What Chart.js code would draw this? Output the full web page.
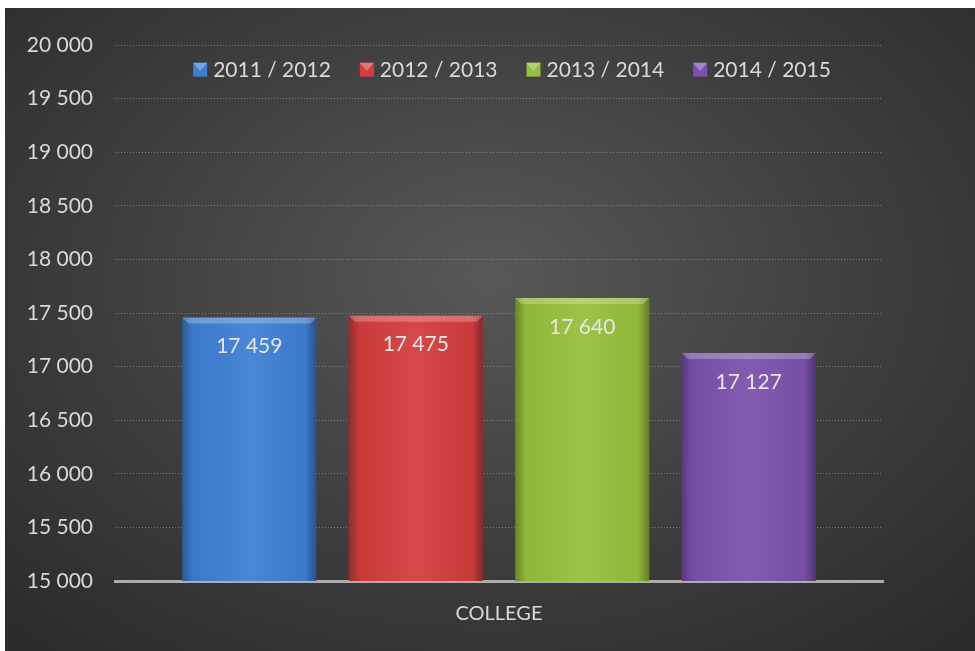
<!DOCTYPE html>
<html>
<head>
<meta charset="utf-8">
<script src="https://cdn.jsdelivr.net/npm/chart.js@4"></script>
<style>
    html, body { margin: 0; padding: 0; background: #ffffff; }
    #wrap {
        position: absolute;
        left: 5px;
        top: 8px;
        width: 970px;
        height: 643px;
        background: radial-gradient(ellipse 75% 80% at 50% 42%, #585858 0%, #3f3f3f 50%, #292929 100%);
    }
    canvas { display: block; }
</style>
</head>
<body>
<div id="wrap"><canvas id="college-chart" width="970" height="643"></canvas></div>
<script>
// Data
const categories = ['COLLEGE'];
const seasons = ['2011 / 2012', '2012 / 2013', '2013 / 2014', '2014 / 2015'];
const students = [17459, 17475, 17640, 17127];
const seasonColors = ['rgb(62, 127, 212)', 'rgb(212, 62, 62)', 'rgb(150, 192, 60)', 'rgb(124, 82, 172)'];

const yMin = 15000;
const yMax = 20000;
const yStep = 500;

const textColor = '#d9d9d9';
const fontFamily = 'Lato, "Open Sans", sans-serif';

// "20 000" style numbers
const formatNumber = (v) => String(v).replace(/\B(?=(\d{3})+(?!\d))/g, ' ');

// bevel-ish shading on top of each bar + value labels
const barLook = {
    id: 'barLook',
    afterDatasetsDraw(chart) {
        const ctx = chart.ctx;
        const area = chart.chartArea;
        chart.data.datasets.forEach((ds, i) => {
            const meta = chart.getDatasetMeta(i);
            meta.data.forEach((bar, j) => {
                const left = bar.x - bar.width / 2;
                const right = bar.x + bar.width / 2;
                const top = bar.y;
                const bottom = Math.min(bar.base, area.bottom);

                ctx.save();
                // darker edges, lighter middle
                const g = ctx.createLinearGradient(left, 0, right, 0);
                g.addColorStop(0, 'rgba(0,0,0,0.30)');
                g.addColorStop(0.08, 'rgba(0,0,0,0.05)');
                g.addColorStop(0.5, 'rgba(255,255,255,0.06)');
                g.addColorStop(0.92, 'rgba(0,0,0,0.05)');
                g.addColorStop(1, 'rgba(0,0,0,0.35)');
                ctx.fillStyle = g;
                ctx.fillRect(left, top, right - left, bottom - top);

                // top bevel
                ctx.beginPath();
                ctx.moveTo(left, top);
                ctx.lineTo(right, top);
                ctx.lineTo(right - 6, top + 6);
                ctx.lineTo(left + 6, top + 6);
                ctx.closePath();
                ctx.fillStyle = 'rgba(255,255,255,0.25)';
                ctx.fill();

                // value
                ctx.fillStyle = '#e6e6e6';
                ctx.font = '21px ' + fontFamily;
                ctx.textAlign = 'center';
                ctx.textBaseline = 'middle';
                ctx.fillText(formatNumber(ds.data[j]), bar.x, top + 29);
                ctx.restore();
            });
        });
    }
};

// legend sits inside the plot, between the two top grid lines
const insideLegend = {
    id: 'insideLegend',
    afterDraw(chart) {
        const ctx = chart.ctx;
        const area = chart.chartArea;
        const box = 14;
        const gapText = 6;
        const gapItem = 29;
        ctx.save();
        ctx.font = '21px ' + fontFamily;
        ctx.textBaseline = 'middle';
        ctx.textAlign = 'left';

        const widths = chart.data.datasets.map((ds) => box + gapText + ctx.measureText(ds.label).width);
        const total = widths.reduce((a, b) => a + b, 0) + gapItem * (widths.length - 1);
        let x = (area.left + area.right) / 2 + 13 - total / 2;
        const y = chart.scales.y.getPixelForValue(19770);

        chart.data.datasets.forEach((ds, i) => {
            ctx.fillStyle = ds.backgroundColor;
            ctx.fillRect(x, y - box / 2, box, box);
            ctx.beginPath();
            ctx.moveTo(x, y - box / 2);
            ctx.lineTo(x + box, y - box / 2);
            ctx.lineTo(x + box / 2, y + 1);
            ctx.closePath();
            ctx.fillStyle = 'rgba(255,255,255,0.3)';
            ctx.fill();
            ctx.fillStyle = textColor;
            ctx.fillText(ds.label, x + box + gapText, y + 1);
            x += widths[i] + gapItem;
        });
        ctx.restore();
    }
};

const datasets = seasons.map((label, i) => ({
    label: label,
    data: [students[i]],
    backgroundColor: seasonColors[i],
    borderWidth: 0,
}));

new Chart(document.getElementById('college-chart'), {
    type: 'bar',
    data: {
        labels: categories,
        datasets: datasets,
    },
    options: {
        responsive: false,
        animation: false,
        devicePixelRatio: 1,
        categoryPercentage: 0.867,
        barPercentage: 0.805,
        layout: {
            padding: { left: 0, right: 92, top: 37, bottom: 0 },
        },
        plugins: {
            legend: { display: false },
            tooltip: { enabled: false },
        },
        scales: {
            x: {
                grid: { display: false, drawTicks: false },
                border: { display: true, color: 'rgba(200,200,200,0.8)', width: 3, dash: [1, 1] },
                ticks: {
                    color: textColor,
                    font: { family: fontFamily, size: 20 },
                    padding: 21,
                },
                afterFit: (scale) => { scale.height = 70; },
            },
            y: {
                min: yMin,
                max: yMax,
                ticks: {
                    stepSize: yStep,
                    color: textColor,
                    font: { family: fontFamily, size: 21 },
                    padding: 22,
                    callback: (v) => formatNumber(v),
                },
                grid: { color: 'rgba(180,180,180,0.5)', lineWidth: 1, drawTicks: false },
                border: { display: false, dash: [1, 2] },
                afterFit: (scale) => { scale.width = 110; },
            },
        },
    },
    plugins: [barLook, insideLegend],
});
</script>
</body>
</html>
